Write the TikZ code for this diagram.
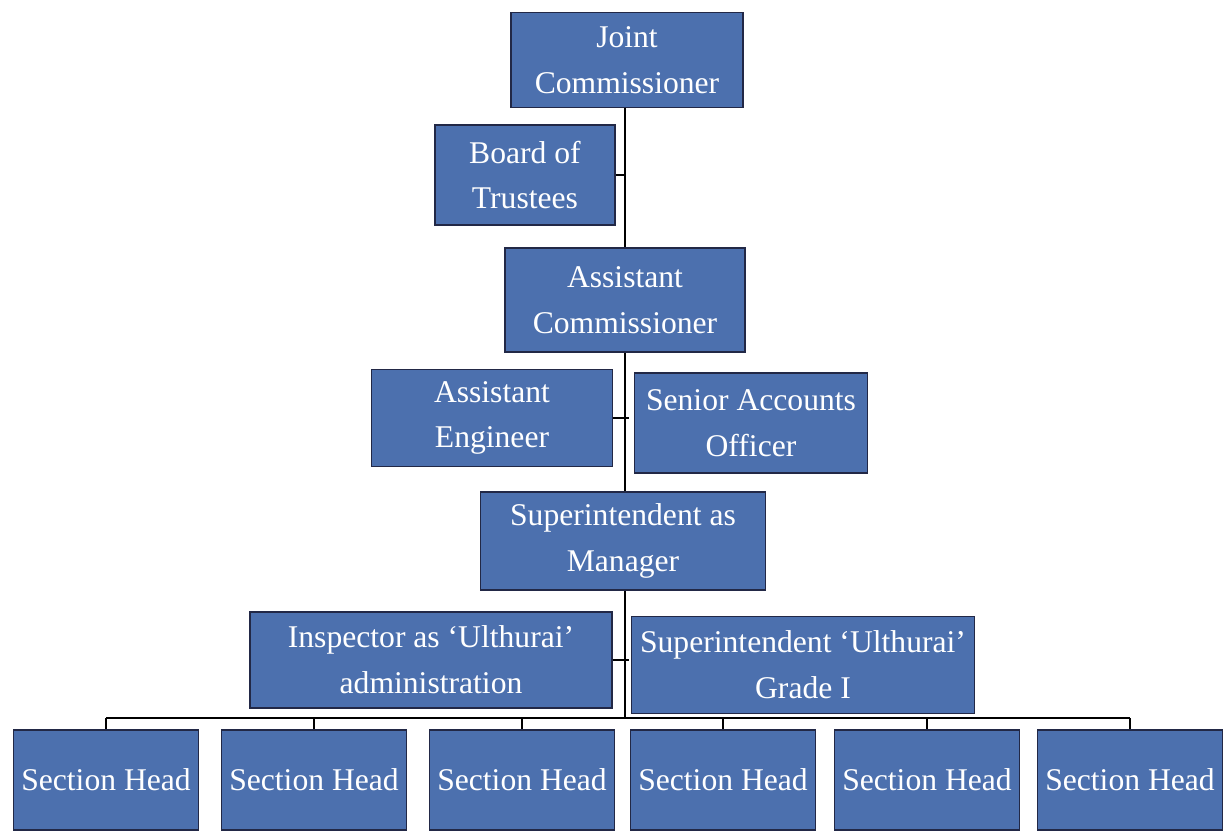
\documentclass[tikz,border=0pt]{standalone}
\usepackage{fontspec}
\setmainfont{Liberation Serif}
\usetikzlibrary{positioning}

\definecolor{postblue}{RGB}{76,112,174}
\definecolor{postline}{RGB}{34,40,70}

\begin{document}
\begin{tikzpicture}[
      x=0.02cm, y=-0.02cm,
      post/.style={draw=postline, line width=1pt, fill=postblue, text=white, align=center,
        inner sep=0pt, font=\fontsize{18}{26}\selectfont},
      section/.style={post, minimum width=3.7cm, minimum height=2cm},
      link/.style={draw=black, line width=1.6pt}
  ]

  \useasboundingbox (0,0) rectangle (1224,831);

  % upper chain
  \node [post, minimum width=4.64cm, minimum height=1.9cm] (JointComm) at (627,60) {Joint\\Commissioner};
  \node [post, minimum width=3.6cm, minimum height=2cm] (Board) at (525,175) {Board of\\Trustees};
  \node [post, minimum width=4.8cm, minimum height=2.08cm] (AsstComm) at (625,300) {Assistant\\Commissioner};
  \node [post, minimum width=4.82cm, minimum height=1.94cm] (AsstEng) at (492,418) {Assistant\\Engineer};
  \node [post, minimum width=4.66cm, minimum height=2cm] (SAO) at (751,423) {Senior Accounts\\Officer};
  \node [post, minimum width=5.7cm, minimum height=1.96cm] (Supt) at (623,541) {Superintendent as\\Manager};
  \node [post, minimum width=7.24cm, minimum height=1.92cm] (Inspector) at (431,660) {Inspector as `Ulthurai'\\administration};
  \node [post, minimum width=6.86cm, minimum height=1.94cm] (SuptUl) at (803,665) {Superintendent `Ulthurai'\\Grade I};

  % section heads
  \node [section] (sec1) at (106,780) {Section Head};
  \node [section] (sec2) at (314,780) {Section Head};
  \node [section] (sec3) at (522,780) {Section Head};
  \node [section] (sec4) at (723,780) {Section Head};
  \node [section] (sec5) at (927,780) {Section Head};
  \node [section] (sec6) at (1130,780) {Section Head};

  \coordinate (trunk) at (625,108);
  \coordinate (bus) at (625,718);

  \draw [link] (trunk) -- (trunk |- AsstComm.north);
  \draw [link] (trunk |- AsstComm.south) -- (trunk |- Supt.north);
  \draw [link] (trunk |- Supt.south) -- (bus);

  \draw [link] (Board.east) -- (Board.east -| trunk);
  \draw [link] (AsstEng.east) -- ([xshift=0.08cm]AsstEng.east -| trunk);
  \draw [link] (Inspector.east) -- ([xshift=0.08cm]Inspector.east -| trunk);

  \draw [link] (sec1.north |- bus) -- (sec6.north |- bus);
  \draw [link] (sec1.north |- bus) -- (sec1.north);
  \draw [link] (sec2.north |- bus) -- (sec2.north);
  \draw [link] (sec3.north |- bus) -- (sec3.north);
  \draw [link] (sec4.north |- bus) -- (sec4.north);
  \draw [link] (sec5.north |- bus) -- (sec5.north);
  \draw [link] (sec6.north |- bus) -- (sec6.north);

\end{tikzpicture}
\end{document}
